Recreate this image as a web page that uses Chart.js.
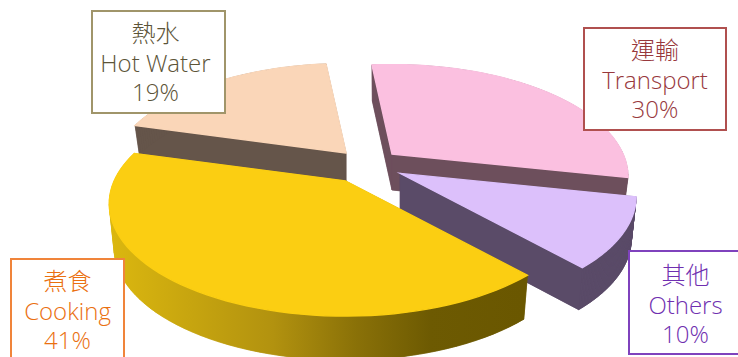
<!DOCTYPE html>
<html>
<head>
<meta charset="utf-8">
<script src="https://cdn.jsdelivr.net/npm/chart.js@4"></script>
<style>
	html, body { margin: 0; padding: 0; background: #fff; }
	#wrap { position: relative; width: 738px; height: 357px; overflow: hidden; }
	.tag {
		position: absolute;
		box-sizing: border-box;
		background: #fff;
		border: 2px solid;
		text-align: center;
		font-family: "Open Sans", "Noto Sans CJK TC", sans-serif;
		font-weight: 300;
		font-size: 24px;
		line-height: 29.5px;
		padding-top: 6px;
	}
	#tag-0 { left: 583px; top: 27px; width: 144px; height: 104px; color: #98383c; border-color: #b0504f; }
	#tag-1 { left: 628px; top: 250px; width: 120px; height: 105px; padding-top: 8px; padding-right: 5px; color: #6f2fb0; border-color: #7f42bd; }
	#tag-2 { left: 10px; top: 258px; width: 115px; height: 110px; color: #ea7010; border-color: #f0843a; }
	#tag-3 { left: 91px; top: 10px; width: 135px; height: 104px; padding-right: 6px; color: #5c5438; border-color: #a0956a; }
</style>
</head>
<body>
<div id="wrap">
	<canvas id="chart-energy"></canvas>
</div>
<script>
const CATEGORIES_ZH = ["運輸", "其他", "煮食", "熱水"];
const CATEGORIES_EN = ["Transport", "Others", "Cooking", "Hot Water"];
const SHARES = [30, 10, 41, 19];

const TOP_COLORS = ["#fbc0e0", "#dcc0fb", "#fbce12", "#fad6b8"];
const SIDE_COLORS = ["#6d4f5c", "#5a4b68", null, "#65554a"];
const SIDE_DEPTH = [36, 42, 44, 29];
const SLICE_OFFSET = [22, 25, 27, 21.2];

// flattened view of the pie
const VIEW = { sx: 1.53, sy: 0.713, k: 0.204, shrink: 0.98 };

const cookingSide = (ctx) => {
	const g = ctx.createLinearGradient(107, 0, 522, 0);
	g.addColorStop(0, "#dcb80f");
	g.addColorStop(0.4, "#b2920f");
	g.addColorStop(0.6, "#8a7108");
	g.addColorStop(0.78, "#6d5a02");
	g.addColorStop(1, "#6a5700");
	return g;
};

const outline = (el) => {
	const R = el.outerRadius;
	const mid = (el.startAngle + el.endAngle) / 2;
	const ax = el.x + el.options.offset * VIEW.sx * Math.cos(mid);
	const ay = el.y + el.options.offset * VIEW.sy * Math.sin(mid);
	const pts = [{ x: ax, y: ay }];
	const steps = 64;
	for (let i = 0; i <= steps; i++) {
		const a = el.startAngle + ((el.endAngle - el.startAngle) * i) / steps;
		const w = 1 - VIEW.k * Math.sin(a);
		pts.push({
			x: ax + (R * VIEW.sx * Math.cos(a)) / w,
			y: ay + (R * VIEW.sy * Math.sin(a)) / w,
		});
	}
	return { pts, ax, mid };
};

const fillPoly = (ctx, pts, color, edge) => {
	ctx.beginPath();
	pts.forEach((p, i) => (i ? ctx.lineTo(p.x, p.y) : ctx.moveTo(p.x, p.y)));
	ctx.closePath();
	ctx.fillStyle = color;
	ctx.strokeStyle = color;
	ctx.lineWidth = edge;
	ctx.fill();
	ctx.stroke();
};

// Draws the arcs the pie controller laid out, as tilted solid wedges
const solidPie = {
	id: "solidPie",
	beforeDatasetsDraw(chart) {
		const ctx = chart.ctx;
		const arcs = chart.getDatasetMeta(0).data.map((el, index) => ({ el, index, ...outline(el) }));
		arcs.sort((a, b) => Math.sin(a.mid) - Math.sin(b.mid));
		arcs.forEach(({ el, index, pts, ax }) => {
			const side = SIDE_COLORS[index] || cookingSide(ctx);
			const depth = SIDE_DEPTH[index];
			const low = pts.map((p) => ({ x: ax + (p.x - ax) * VIEW.shrink, y: p.y + depth }));
			fillPoly(ctx, low, side, 0.5);
			pts.forEach((p, i) => {
				const j = (i + 1) % pts.length;
				fillPoly(ctx, [p, pts[j], low[j], low[i]], side, 0.5);
			});
			fillPoly(ctx, pts, el.options.backgroundColor, 1.4);
		});
		return false;
	},
};

new Chart(document.getElementById("chart-energy"), {
	type: "pie",
	data: {
		labels: CATEGORIES_EN,
		datasets: [
			{
				data: SHARES,
				backgroundColor: TOP_COLORS,
				borderWidth: 0,
				offset: SLICE_OFFSET,
			},
		],
	},
	options: {
		responsive: true,
		maintainAspectRatio: false,
		animation: false,
		rotation: -6,
		layout: { padding: { right: 4, bottom: 28 } },
		plugins: {
			legend: { display: false },
			title: { display: false },
			tooltip: { enabled: false },
		},
	},
	plugins: [solidPie],
});

const wrap = document.getElementById("wrap");
CATEGORIES_EN.forEach((name, i) => {
	const tag = document.createElement("div");
	tag.className = "tag";
	tag.id = "tag-" + i;
	tag.innerHTML = `${CATEGORIES_ZH[i]}<br>${name}<br>${SHARES[i]}%`;
	wrap.appendChild(tag);
});
</script>
</body>
</html>
